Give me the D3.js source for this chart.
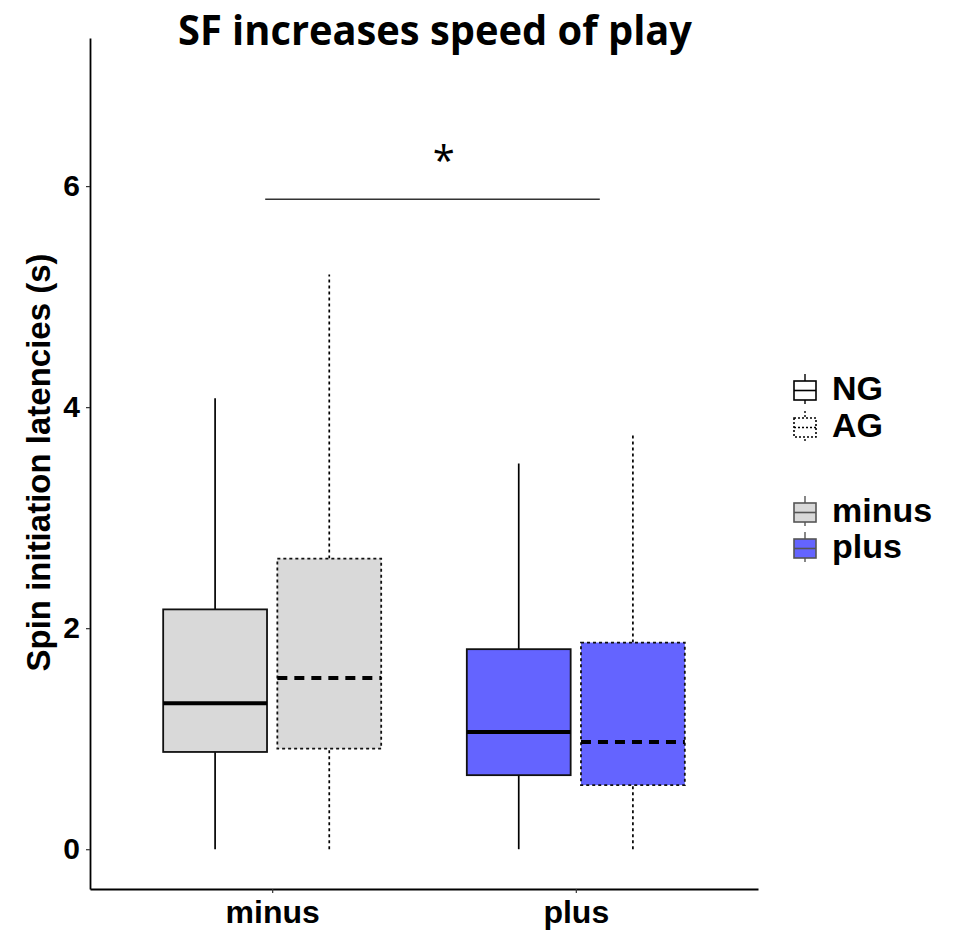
<!DOCTYPE html>
<html>
<head>
<meta charset="utf-8">
<script src="https://cdn.jsdelivr.net/npm/d3@7"></script>
<style>
  body { margin: 0; background: #fff; }
  text { font-family: "Liberation Sans", Arial, sans-serif; font-weight: bold; }
</style>
</head>
<body>
<div id="chart"></div>
<script>
// data
const groups = ["minus", "plus"];
const genotypes = ["NG", "AG"];
const boxGroup = ["minus", "minus", "plus", "plus"];
const boxGenotype = ["NG", "AG", "NG", "AG"];
const lowWhisker = [0, 0, 0, 0];
const q1 = [0.88, 0.91, 0.67, 0.58];
const median = [1.32, 1.55, 1.06, 0.97];
const q3 = [2.17, 2.63, 1.81, 1.87];
const highWhisker = [4.08, 5.20, 3.49, 3.77];
const yTicks = [0, 2, 4, 6];
const sigFrom = 0.977, sigTo = 2.079, sigY = 5.88, sigLabel = "*", sigLabelX = 1.565;

const width = 961, height = 931;
const svg = d3.select("#chart").append("svg")
  .attr("width", width)
  .attr("height", height);

const x = d3.scaleLinear().domain([0.4, 2.6]).range([90, 758]);
const y = d3.scaleLinear().domain([-0.36, 7.34]).range([889, 38]);
const dodge = { NG: -0.188, AG: 0.188 };
const boxW = 0.342;
const fillColor = { minus: "#d9d9d9", plus: "#6464ff" };

const boxes = boxGroup.map((g, i) => ({
  group: g, geno: boxGenotype[i], lo: lowWhisker[i], q1: q1[i],
  med: median[i], q3: q3[i], hi: highWhisker[i],
  pos: groups.indexOf(g) + 1 + dodge[boxGenotype[i]]
}));

const dash = d => d.geno === "AG" ? "3,3" : null;

const plot = svg.append("g");

// whiskers
plot.selectAll("line.whisk-lo").data(boxes).join("line")
  .attr("x1", d => x(d.pos)).attr("x2", d => x(d.pos))
  .attr("y1", d => y(d.lo)).attr("y2", d => y(d.q1))
  .attr("stroke", "#000").attr("stroke-width", 1.7)
  .attr("stroke-dasharray", dash);
plot.selectAll("line.whisk-hi").data(boxes).join("line")
  .attr("x1", d => x(d.pos)).attr("x2", d => x(d.pos))
  .attr("y1", d => y(d.q3)).attr("y2", d => y(d.hi))
  .attr("stroke", "#000").attr("stroke-width", 1.7)
  .attr("stroke-dasharray", dash);

// boxes
plot.selectAll("rect.box").data(boxes).join("rect")
  .attr("x", d => x(d.pos - boxW / 2))
  .attr("width", d => x(d.pos + boxW / 2) - x(d.pos - boxW / 2))
  .attr("y", d => y(d.q3))
  .attr("height", d => y(d.q1) - y(d.q3))
  .attr("fill", d => fillColor[d.group])
  .attr("stroke", "#111").attr("stroke-width", 1.8)
  .attr("stroke-dasharray", dash);

// medians
plot.selectAll("line.med").data(boxes).join("line")
  .attr("x1", d => x(d.pos - boxW / 2)).attr("x2", d => x(d.pos + boxW / 2))
  .attr("y1", d => y(d.med)).attr("y2", d => y(d.med))
  .attr("stroke", "#000").attr("stroke-width", 4)
  .attr("stroke-dasharray", d => d.geno === "AG" ? "10,7" : null);

// axes
const yAxis = svg.append("g")
  .attr("transform", `translate(${x(0.4)},0)`)
  .call(d3.axisLeft(y).tickValues(yTicks).tickSizeInner(4).tickSizeOuter(0).tickPadding(6));
const xAxis = svg.append("g")
  .attr("transform", `translate(0,${y(-0.36)})`)
  .call(d3.axisBottom(x).tickValues([1, 2]).tickFormat(d => groups[d - 1])
    .tickSizeInner(4).tickSizeOuter(0).tickPadding(7));
[yAxis, xAxis].forEach(a => {
  a.select(".domain").attr("stroke", "#000").attr("stroke-width", 1.8);
  a.selectAll(".tick line").attr("stroke", "#333").attr("stroke-width", 1.2);
  a.selectAll(".tick text").attr("fill", "#000")
    .style("font-family", "'Liberation Sans', Arial, sans-serif").style("font-weight", "bold");
});
yAxis.selectAll(".tick text").style("font-size", "30px");
xAxis.selectAll(".tick text").style("font-size", "32px");

svg.append("text")
  .attr("transform", `translate(50,${(250 + 675) / 2}) rotate(-90)`)
  .attr("text-anchor", "middle")
  .style("font-size", "33px")
  .text("Spin initiation latencies (s)");

// title
svg.append("text")
  .attr("x", 178).attr("y", 45)
  .attr("textLength", 514).attr("lengthAdjust", "spacingAndGlyphs")
  .style("font-family", "'Open Sans', sans-serif")
  .style("font-size", "42px")
  .text("SF increases speed of play");

// significance bar
svg.append("line")
  .attr("x1", x(sigFrom)).attr("x2", x(sigTo))
  .attr("y1", y(sigY)).attr("y2", y(sigY))
  .attr("stroke", "#333").attr("stroke-width", 1.5);
svg.append("text")
  .attr("x", x(sigLabelX)).attr("y", 175)
  .attr("text-anchor", "middle")
  .style("font-family", "'Open Sans', sans-serif")
  .style("font-weight", "normal")
  .style("font-size", "40px")
  .text(sigLabel);

// legend
const legend = svg.append("g");
const legendItems = [
  { label: "NG", base: 400, fill: "#fff", stroke: "#000", dash: null },
  { label: "AG", base: 437, fill: "#fff", stroke: "#000", dash: "2,2" },
  { label: "minus", base: 522, fill: fillColor.minus, stroke: "#555", dash: null },
  { label: "plus", base: 558, fill: fillColor.plus, stroke: "#555", dash: null }
];
const li = legend.selectAll("g").data(legendItems).join("g")
  .attr("transform", d => `translate(0,${d.base})`);
li.append("line")
  .attr("x1", 805).attr("x2", 805).attr("y1", -26).attr("y2", 4)
  .attr("stroke", d => d.stroke).attr("stroke-width", 1.4)
  .attr("stroke-dasharray", d => d.dash);
li.append("rect")
  .attr("x", 794).attr("y", -19).attr("width", 22).attr("height", 19)
  .attr("fill", d => d.fill).attr("stroke", d => d.stroke).attr("stroke-width", 1.6)
  .attr("stroke-dasharray", d => d.dash);
li.append("line")
  .attr("x1", 794).attr("x2", 816).attr("y1", -9.5).attr("y2", -9.5)
  .attr("stroke", d => d.stroke).attr("stroke-width", 1.6)
  .attr("stroke-dasharray", d => d.dash);
li.append("text")
  .attr("x", 832).attr("y", 0)
  .style("font-size", "34px")
  .text(d => d.label);
</script>
</body>
</html>
